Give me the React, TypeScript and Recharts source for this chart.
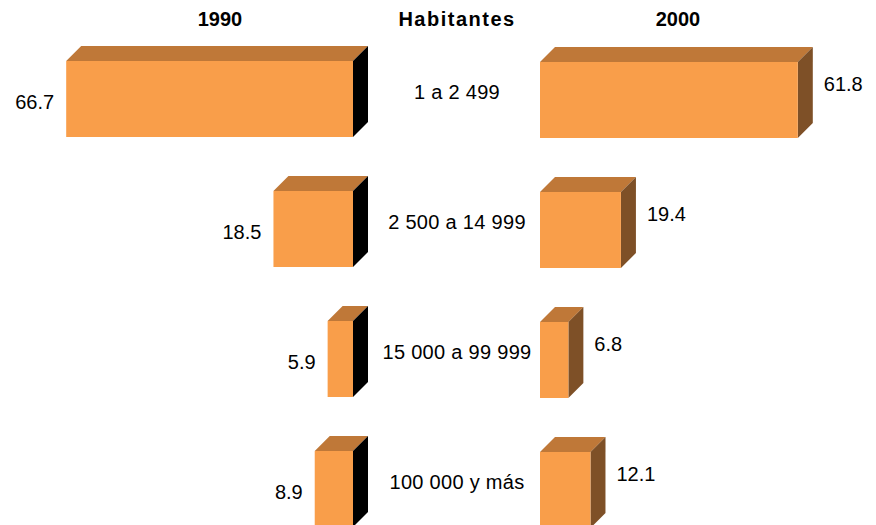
import React from 'react';
import { BarChart, Bar, XAxis, YAxis, LabelList } from 'recharts';

const categories = ['1 a 2 499', '2 500 a 14 999', '15 000 a 99 999', '100 000 y más'];
const values1990 = [66.7, 18.5, 5.9, 8.9];
const values2000 = [61.8, 19.4, 6.8, 12.1];
const headers = { left: '1990', middle: 'Habitantes', right: '2000' };

const data = categories.map((cat, i) => ({ cat, v1990: values1990[i], v2000: values2000[i] }));

const FONT = '"Liberation Sans", Arial, Helvetica, sans-serif';
const FRONT = '#F99E4A';
const TOP = '#BF7838';
const DEPTH = 15;
const RIGHT_LEFT = 360;

const makeShape = (sideColor: string) => (props: any) => {
  const { x, y, width, height } = props;
  const x0 = Math.min(x, x + width);
  const w = Math.abs(width);
  const d = DEPTH;
  const front = `M${x0},${y} h${w} v${height} h${-w} Z`;
  const top = `M${x0},${y} L${x0 + d},${y - d} L${x0 + w + d},${y - d} L${x0 + w},${y} Z`;
  const side = `M${x0 + w},${y} L${x0 + w + d},${y - d} L${x0 + w + d},${y + height - d} L${x0 + w},${y + height} Z`;
  return (
    <g>
      <path d={top} fill={TOP} />
      <path d={side} fill={sideColor} />
      <path d={front} fill={FRONT} />
    </g>
  );
};

const leftShape = makeShape('#000000');
const rightShape = makeShape('#7E5027');

const leftLabel = (p: any) => {
  const x0 = Math.min(p.x, p.x + p.width);
  return (
    <text x={x0 - 12} y={p.y + p.height / 2 + 10} textAnchor="end" fontFamily={FONT} fontSize={20} fill="#000">
      {p.value}
    </text>
  );
};

const rightLabel = (p: any) => {
  const x0 = Math.min(p.x, p.x + p.width);
  const w = Math.abs(p.width);
  return (
    <text x={x0 + w + DEPTH + 11} y={p.y + p.height / 2 - 9} textAnchor="start" fontFamily={FONT} fontSize={20} fill="#000">
      {p.value}
    </text>
  );
};

const CatTick = (p: any) => (
  <text x={457 - RIGHT_LEFT} y={p.y - 1} textAnchor="middle" fontFamily={FONT} fontSize={20} fill="#000" letterSpacing={0.3}>
    {p.payload.value}
  </text>
);

export default function App() {
  return (
    <div style={{ position: 'absolute', left: 0, top: 0, width: 876, height: 525, overflow: 'hidden', background: '#fff' }}>
      <div style={{ position: 'absolute', left: 0, top: 0 }}>
        <BarChart
          width={440}
          height={560}
          data={data}
          layout="vertical"
          margin={{ top: 34, right: 87, bottom: 6, left: 52 }}
        >
          <XAxis type="number" domain={[0, 70]} reversed hide />
          <YAxis type="category" dataKey="cat" hide />
          <Bar dataKey="v1990" barSize={76} shape={leftShape} isAnimationActive={false}>
            <LabelList dataKey="v1990" content={leftLabel} />
          </Bar>
        </BarChart>
      </div>
      <div style={{ position: 'absolute', left: RIGHT_LEFT, top: 0 }}>
        <BarChart
          width={876 - RIGHT_LEFT}
          height={560}
          data={data}
          layout="vertical"
          margin={{ top: 35, right: 44, bottom: 5, left: 0 }}
        >
          <XAxis type="number" domain={[0, 70]} hide />
          <YAxis type="category" dataKey="cat" width={540 - RIGHT_LEFT} axisLine={false} tickLine={false} tick={<CatTick />} />
          <Bar dataKey="v2000" barSize={76} shape={rightShape} isAnimationActive={false}>
            <LabelList dataKey="v2000" content={rightLabel} />
          </Bar>
        </BarChart>
      </div>
      <svg width={876} height={40} style={{ position: 'absolute', left: 0, top: 0 }}>
        <text x={220} y={26} textAnchor="middle" fontFamily={FONT} fontSize={20} fontWeight="bold" fill="#000">{headers.left}</text>
        <text x={457} y={26} textAnchor="middle" fontFamily={FONT} fontSize={20} fontWeight="bold" fill="#000" letterSpacing={1.5}>{headers.middle}</text>
        <text x={678} y={26} textAnchor="middle" fontFamily={FONT} fontSize={20} fontWeight="bold" fill="#000">{headers.right}</text>
      </svg>
    </div>
  );
}
